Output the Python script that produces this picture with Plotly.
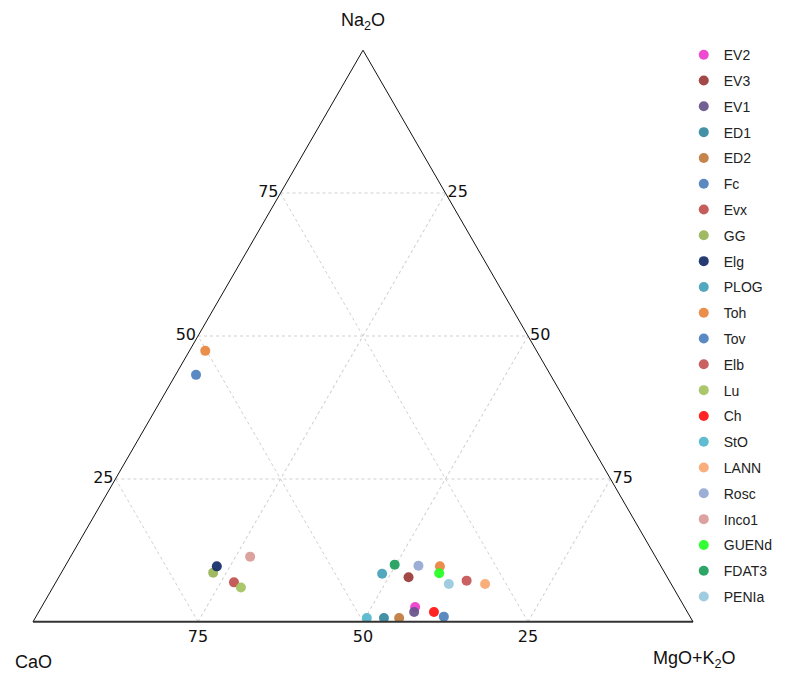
import plotly.graph_objects as go

# Series names (legend order)
NAMES = ["EV2", "EV3", "EV1", "ED1", "ED2", "Fc", "Evx", "GG", "Elg", "PLOG", "Toh",
         "Tov", "Elb", "Lu", "Ch", "StO", "LANN", "Rosc", "Inco1", "GUENd", "FDAT3", "PENIa"]

# Na2O (top), CaO (bottom-left), MgO+K2O (bottom-right) per series
NA2O = [[2.6], [7.8], [1.7], [0.65], [0.65], [0.9], [6.9], [8.6], [9.7], [8.4], [47.4, 9.7],
        [43.2], [7.2], [6.0], [1.7], [0.65], [6.6], [9.8], [11.4], [8.5], [10.0], [6.6]]
CAO = [[40.8], [39.2], [41.4], [46.5], [44.2], [37.3], [66.1], [68.4], [67.3], [42.9], [50.2, 33.5],
       [53.7], [30.7], [65.5], [38.4], [49.1], [28.2], [36.7], [61.4], [34.2], [40.2], [33.7]]
MGOK2O = [[56.6], [53.0], [56.9], [52.85], [55.15], [61.8], [27.0], [23.0], [23.0], [48.7], [2.4, 56.8],
          [3.1], [62.1], [28.5], [59.9], [50.25], [65.2], [53.5], [27.2], [57.3], [49.8], [59.7]]

TICKS = [25, 50, 75]
AXIS_TITLES = ["Na<sub>2</sub>O", "CaO", "MgO+K<sub>2</sub>O"]

COLORS = ["#ee3ccc", "#9a3a38", "#67528a", "#34889e", "#bf7a3c", "#4f7fbc", "#c0504d",
          "#97b455", "#142a66", "#44a0b8", "#e8853c", "#4d7fbe", "#c45452", "#a3c260",
          "#ff1010", "#52b6cc", "#f8a870", "#94a6d2", "#d99a98", "#22ff22", "#1a9d5a", "#97c8dc"]

fig = go.Figure()
for name, a, b, c, col in zip(NAMES, NA2O, CAO, MGOK2O, COLORS):
    fig.add_trace(go.Scatterternary(
        a=a, b=b, c=c, mode="markers", name=name, legendgroup=name,
        marker=dict(color=col, size=10, opacity=0.92, line=dict(width=0)),
    ))

axis_common = dict(
    tickvals=TICKS, ticktext=[str(t) for t in TICKS],
    tickfont=dict(family="DejaVu Sans", size=16, color="#111111"),
    ticks="", showgrid=True, gridcolor="#cfcfcf", griddash="dot", gridwidth=1,
    linecolor="#111111", linewidth=1, min=0, title=dict(text=""),
)

fig.update_layout(
    width=789, height=673,
    paper_bgcolor="white", plot_bgcolor="white",
    margin=dict(l=25, r=104, t=42, b=59, autoexpand=False),
    font=dict(family="Liberation Sans, Arial, sans-serif", color="#222222"),
    ternary=dict(
        sum=100, bgcolor="white",
        domain=dict(x=[0, 1], y=[0, 1]),
        aaxis=axis_common,
        baxis={**axis_common, "linewidth": 2, "linecolor": "#333333"},
        caxis=axis_common,
    ),
    legend=dict(
        x=0.986, y=1.019, xanchor="left", yanchor="top",
        font=dict(family="Liberation Sans, Arial", size=14, color="#222222"),
        tracegroupgap=4.6, maxheight=1000,
        bgcolor="rgba(0,0,0,0)",
    ),
    showlegend=True,
)

title_pos = [(0.5, 1.05), (0.0015, -0.07), (1.003, -0.066)]
for txt, (x, y) in zip(AXIS_TITLES, title_pos):
    fig.add_annotation(text=txt, x=x, y=y, xref="paper", yref="paper",
                       xanchor="center", yanchor="middle", showarrow=False,
                       font=dict(family="Liberation Sans, Arial", size=18, color="#111111"))

fig.write_html("out.html")
